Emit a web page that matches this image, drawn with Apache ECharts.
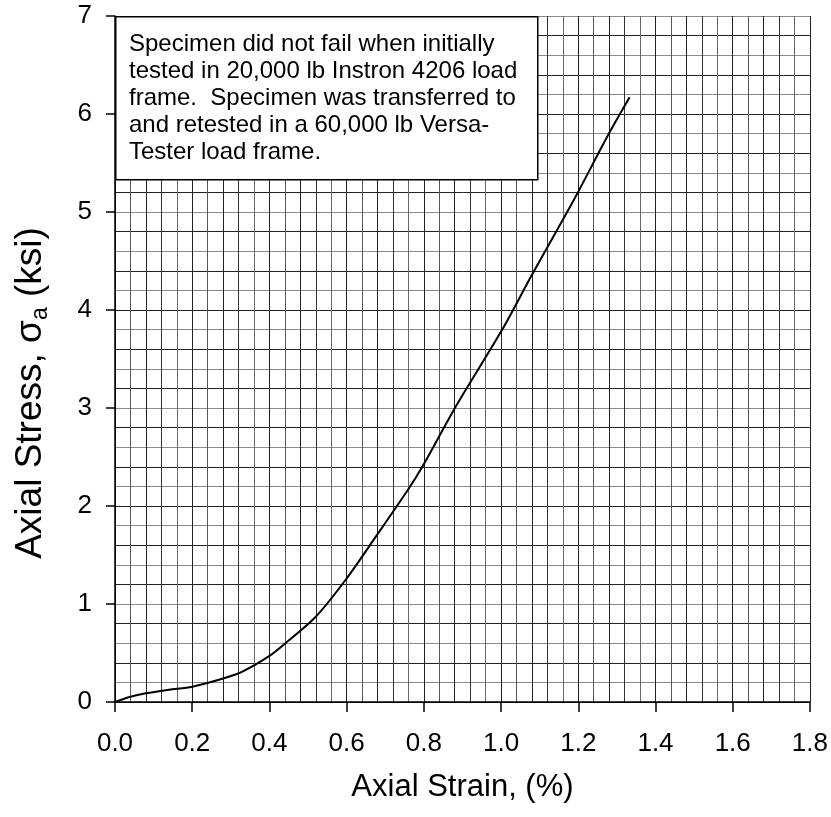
<!DOCTYPE html>
<html><head><meta charset="utf-8">
<script src="https://cdn.jsdelivr.net/npm/echarts@6/dist/echarts.min.js"></script>
<style>html,body{margin:0;padding:0;background:#fff}#c{width:831px;height:817px}</style>
</head><body><div id="c"></div>
<script>
const strain = [0, 0.04, 0.08, 0.14, 0.2, 0.28, 0.33, 0.40, 0.443, 0.52, 0.598, 0.676, 0.758, 0.796, 0.882, 1.003, 1.08, 1.188, 1.278, 1.333];
const stress = [0, 0.054, 0.089, 0.125, 0.156, 0.24, 0.31, 0.47, 0.605, 0.87, 1.25, 1.69, 2.16, 2.40, 3.01, 3.80, 4.36, 5.12, 5.79, 6.17];
const xTitle = 'Axial Strain, (%)';
const yTitleParts = ['Axial Stress, σ', 'a', ' (ksi)'];
const noteLines = [
  'Specimen did not fail when initially',
  'tested in 20,000 lb Instron 4206 load',
  'frame.  Specimen was transferred to',
  'and retested in a 60,000 lb Versa-',
  'Tester load frame.'
];
const FONT = '"Liberation Sans", Arial, sans-serif';
const chart = echarts.init(document.getElementById('c'), null, {renderer: 'canvas'});
chart.setOption({
  animation: false,
  backgroundColor: '#fff',
  grid: {left: 115, right: 19, top: 16, bottom: 115, containLabel: false},
  xAxis: [{
    type: 'value', min: 0, max: 1.8, interval: 0.2,
    name: xTitle, nameLocation: 'middle', nameGap: 70,
    nameTextStyle: {fontFamily: FONT, fontSize: 31, color: '#000'},
    axisLine: {show: true, lineStyle: {color: '#000', width: 1.5}},
    axisTick: {show: true, inside: false, length: 10, lineStyle: {color: '#000', width: 1.5}},
    axisLabel: {fontFamily: FONT, fontSize: 26, color: '#000', margin: 29, formatter: v => v.toFixed(1)},
    splitLine: {show: false}
  }, {
    type: 'value', min: 0, max: 1.8, interval: 0.04, position: 'bottom',
    axisLine: {show: false}, axisTick: {show: false}, axisLabel: {show: false},
    splitLine: {show: true, lineStyle: {color: ['#222', '#555', '#222', '#333', '#666'], width: 1}}
  }],
  yAxis: [{
    type: 'value', min: 0, max: 7, interval: 1,
    axisLine: {show: true, lineStyle: {color: '#000', width: 1.5}},
    axisTick: {show: true, inside: false, length: 9, lineStyle: {color: '#000', width: 1.5}},
    axisLabel: {fontFamily: FONT, fontSize: 26, color: '#000', margin: 23},
    splitLine: {show: false}
  }, {
    type: 'value', min: 0, max: 7, interval: 0.2, position: 'left',
    axisLine: {show: false}, axisTick: {show: false}, axisLabel: {show: false},
    splitLine: {show: true, lineStyle: {color: ['#222', '#8a8a8a'], width: 1}}
  }],
  graphic: [{
    type: 'rect', left: 115, top: 16, z: 100, zlevel: 1,
    shape: {x: 0, y: 0, width: 422, height: 163},
    style: {fill: '#fff', stroke: '#000', lineWidth: 1.5}
  }, {
    type: 'text', left: 129, top: 31, z: 101, zlevel: 1,
    style: {text: noteLines.join('\n'), font: '24px ' + FONT, fill: '#000', lineHeight: 27}
  }, {
    type: 'text', x: 31, y: 393, rotation: Math.PI / 2, z: 101,
    style: {
      text: '{t|' + yTitleParts[0] + '}{s|' + yTitleParts[1] + '}{t|' + yTitleParts[2] + '}',
      align: 'center', verticalAlign: 'middle',
      rich: {
        t: {fontFamily: FONT, fontSize: 37, fill: '#000', lineHeight: 42},
        s: {fontFamily: FONT, fontSize: 23, fill: '#000', lineHeight: 42, verticalAlign: 'bottom'}
      }
    }
  }],
  series: [{
    type: 'line', xAxisIndex: 0, yAxisIndex: 0,
    data: strain.map((x, i) => [x, stress[i]]),
    showSymbol: false, smooth: 0.3,
    lineStyle: {color: '#000', width: 2}, z: 10
  }]
});
</script></body></html>
